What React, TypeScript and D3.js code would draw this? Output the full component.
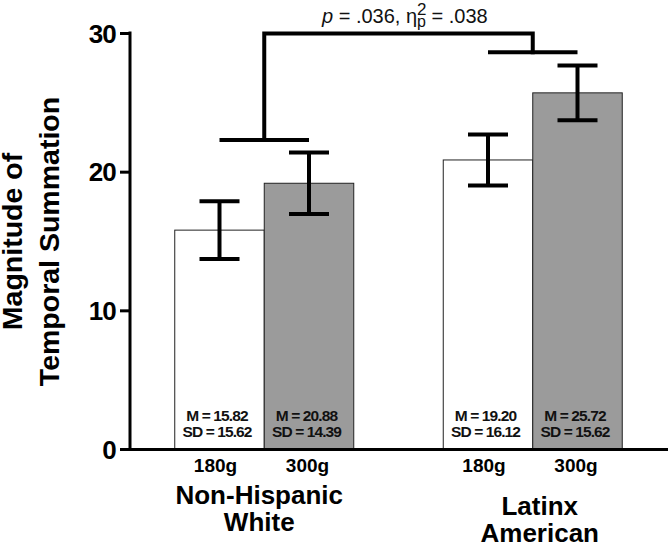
import React from "react";
import * as d3 from "d3";

const groups = ["Non-Hispanic White", "Latinx American"];
const groupLines = [["Non-Hispanic", "White"], ["Latinx", "American"]];
const doses = ["180g", "300g"];
const means = [
  [15.82, 19.2],
  [20.88, 25.72],
];
const errors = [
  [2.09, 2.21],
  [1.84, 1.97],
];
const meanLabels = [
  ["M = 15.82", "M = 20.88"],
  ["M = 19.20", "M = 25.72"],
];
const sdLabels = [
  ["SD = 15.62", "SD = 14.39"],
  ["SD = 16.12", "SD = 15.62"],
];
const yTicks = [0, 10, 20, 30];
const bracketLevels = [22.32, 30, 28.64];
const fills = ["#ffffff", "#9b9b9b"];

const W = 671;
const H = 545;
const FONT = "'Liberation Sans', Arial, Helvetica, sans-serif";

export default function App() {
  const y = d3.scaleLinear().domain([0, 30]).range([449.5, 33.5]);
  const x0 = d3
    .scaleBand<string>()
    .domain(groups)
    .range([130, 667])
    .paddingInner(1 / 3)
    .paddingOuter(1 / 6);
  const x1 = d3.scaleBand<string>().domain(doses).range([0, x0.bandwidth()]).padding(0);
  const bw = x1.bandwidth();
  const cx = (g: number, d: number) => (x0(groups[g]) as number) + (x1(doses[d]) as number) + bw / 2;
  const gc = (g: number) => (x0(groups[g]) as number) + x0.bandwidth() / 2;

  const capHalf = 20;
  const groupLabelOffsets = [-5, 7];
  const groupLabelBase = [504, 515];

  return (
    <svg
      width={W}
      height={H}
      style={{ position: "absolute", left: 0, top: 0, background: "#fff" }}
      fontFamily={FONT}
    >
      {/* bars */}
      {groups.map((g, gi) =>
        doses.map((d, di) => (
          <rect
            key={g + d}
            x={(x0(g) as number) + (x1(d) as number)}
            y={y(means[gi][di])}
            width={bw}
            height={y(0) - y(means[gi][di])}
            fill={fills[di]}
            stroke="#222"
            strokeWidth={1}
          />
        ))
      )}
      {/* in-bar labels */}
      {groups.map((g, gi) =>
        doses.map((d, di) => (
          <g key={"lab" + g + d} fontWeight="bold" fontSize={15.5} textAnchor="middle" letterSpacing={-0.9} fill="#111">
            <text x={cx(gi, di) - 2.5} y={420.7}>{meanLabels[gi][di]}</text>
            <text x={cx(gi, di) - 2.5} y={437.3}>{sdLabels[gi][di]}</text>
          </g>
        ))
      )}
      {/* error bars */}
      {groups.map((g, gi) =>
        doses.map((d, di) => {
          const c = cx(gi, di);
          const hi = y(means[gi][di] + errors[gi][di]);
          const lo = y(means[gi][di] - errors[gi][di]);
          return (
            <g key={"err" + g + d} stroke="#000" strokeWidth={4}>
              <line x1={c} x2={c} y1={hi} y2={lo} />
              <line x1={c - capHalf} x2={c + capHalf} y1={hi} y2={hi} />
              <line x1={c - capHalf} x2={c + capHalf} y1={lo} y2={lo} />
            </g>
          );
        })
      )}
      {/* significance bracket */}
      <g stroke="#000" strokeWidth={4} fill="none">
        <line x1={cx(0, 0)} x2={cx(0, 1)} y1={y(bracketLevels[0])} y2={y(bracketLevels[0])} />
        <line x1={cx(1, 0)} x2={cx(1, 1)} y1={y(bracketLevels[2])} y2={y(bracketLevels[2])} />
        <path
          d={`M${gc(0)},${y(bracketLevels[0])} V${y(bracketLevels[1])} H${gc(1)} V${y(bracketLevels[2])}`}
          strokeLinejoin="miter"
          strokeLinecap="square"
        />
      </g>
      <text x={322} y={23} fontSize={20} fill="#111">
        <tspan fontStyle="italic">p</tspan>
        <tspan> = .036, η</tspan>
        <tspan dy={-8} fontSize={17}>2</tspan>
        <tspan dx={-9.5} dy={12} fontSize={16}>p</tspan>
        <tspan dy={-4}> = .038</tspan>
      </text>
      {/* axes */}
      <g stroke="#000" strokeWidth={3}>
        <line x1={130} x2={130} y1={y(30) - 2} y2={y(0) + 1.5} />
        <line x1={128.5} x2={668} y1={y(0)} y2={y(0)} />
        {yTicks.map((t) => (
          <line key={"t" + t} x1={120} x2={130} y1={y(t)} y2={y(t)} />
        ))}
      </g>
      {yTicks.map((t) => (
        <text
          key={"tl" + t}
          x={116}
          y={y(t) + 9.3}
          textAnchor="end"
          fontSize={26}
          fontWeight="bold"
          letterSpacing={-0.8}
          fill="#000"
        >
          {t}
        </text>
      ))}
      {/* x labels */}
      {groups.map((g, gi) =>
        doses.map((d, di) => (
          <text
            key={"xl" + g + d}
            x={cx(gi, di) - (di === 0 ? 4 : 1.5)}
            y={472}
            textAnchor="middle"
            fontSize={19}
            fontWeight="bold"
            fill="#000"
          >
            {d}
          </text>
        ))
      )}
      {groups.map((g, gi) => (
        <g key={"gl" + g} textAnchor="middle" fontSize={26} fontWeight="bold" fill="#000">
          <text x={gc(gi) + groupLabelOffsets[gi]} y={groupLabelBase[gi]}>{groupLines[gi][0]}</text>
          <text x={gc(gi) + groupLabelOffsets[gi]} y={groupLabelBase[gi] + 26.5}>{groupLines[gi][1]}</text>
        </g>
      ))}
      {/* y label */}
      <g transform={`translate(0, ${(y(0) + y(30)) / 2}) rotate(-90)`} textAnchor="middle" fontSize={28.5} fontWeight="bold" fill="#000">
        <text x={0} y={21.5}>Magnitude of</text>
        <text x={0} y={59}>Temporal Summation</text>
      </g>
    </svg>
  );
}
